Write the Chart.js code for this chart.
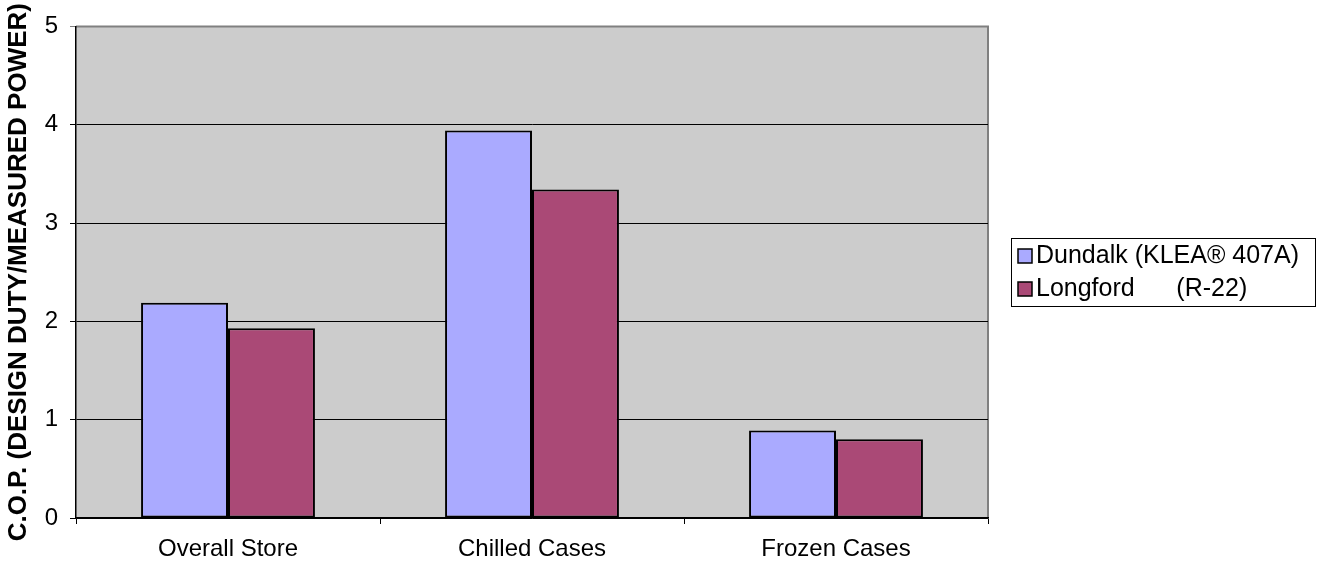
<!DOCTYPE html>
<html>
<head>
<meta charset="utf-8">
<script src="https://cdn.jsdelivr.net/npm/chart.js@4.4.1/dist/chart.umd.min.js"></script>
<style>
  html, body { margin: 0; padding: 0; background: #fff; }
  #wrap { width: 1318px; height: 574px; position: relative; }
</style>
</head>
<body>
<div id="wrap"><canvas id="copChart"></canvas></div>
<script>
const categories = ['Overall Store', 'Chilled Cases', 'Frozen Cases'];
const seriesNames = ['Dundalk (KLEA\u00AE 407A)', 'Longford      (R-22)'];
const dundalkValues = [2.19, 3.94, 0.89];
const longfordValues = [1.93, 3.34, 0.80];
const seriesColors = ['#aaaaff', '#aa4976'];
const yTicks = [0, 1, 2, 3, 4, 5];

const font = 'Arial, "Liberation Sans", sans-serif';

// plot background + grey frame, like the old spreadsheet look
const plotFrame = {
    id: 'plotFrame',
    beforeDraw(chart) {
        const a = chart.chartArea;
        const ctx = chart.ctx;
        ctx.save();
        ctx.fillStyle = '#cccccc';
        ctx.fillRect(a.left, a.top, a.right - a.left, a.bottom - a.top);
        ctx.strokeStyle = '#808080';
        ctx.lineWidth = 2;
        ctx.beginPath();
        ctx.moveTo(a.left, a.top);
        ctx.lineTo(a.right, a.top);
        ctx.lineTo(a.right, a.bottom);
        ctx.stroke();
        ctx.restore();
    }
};

// boxed legend to the right of the plot
const boxLegend = {
    id: 'boxLegend',
    afterDraw(chart) {
        const ctx = chart.ctx;
        const x = 1011, y = 238, w = 304, h = 68;
        ctx.save();
        ctx.fillStyle = '#fff';
        ctx.fillRect(x, y, w, h);
        ctx.strokeStyle = '#000';
        ctx.lineWidth = 1;
        ctx.strokeRect(x + 0.5, y + 0.5, w, h);
        ctx.font = '25px ' + font;
        ctx.textBaseline = 'alphabetic';
        chart.data.datasets.forEach((ds, i) => {
            const base = y + 25 + i * 33;
            ctx.fillStyle = ds.backgroundColor;
            ctx.fillRect(x + 7, base - 14, 14, 14);
            ctx.strokeStyle = '#000';
            ctx.lineWidth = 1.5;
            ctx.strokeRect(x + 7, base - 14, 14, 14);
            ctx.fillStyle = '#000';
            ctx.fillText(ds.label, x + 25, base);
        });
        ctx.restore();
    }
};

new Chart(document.getElementById('copChart'), {
    type: 'bar',
    data: {
        labels: categories,
        datasets: [
            { label: seriesNames[0], data: dundalkValues, backgroundColor: seriesColors[0] },
            { label: seriesNames[1], data: longfordValues, backgroundColor: seriesColors[1] }
        ]
    },
    options: {
        responsive: true,
        maintainAspectRatio: false,
        animation: false,
        layout: { padding: { top: 26, right: 330, left: 0, bottom: 0 } },
        datasets: {
            bar: {
                borderColor: '#000',
                borderWidth: 2,
                borderSkipped: false,
                categoryPercentage: 0.572,
                barPercentage: 1
            }
        },
        plugins: {
            legend: { display: false },
            tooltip: { enabled: false }
        },
        scales: {
            x: {
                offset: true,
                grid: {
                    offset: true,
                    drawOnChartArea: false,
                    color: '#000',
                    tickLength: 6
                },
                border: { color: '#000', width: 1.5 },
                ticks: {
                    color: '#000',
                    padding: 11,
                    maxRotation: 0,
                    font: { family: font, size: 24 }
                },
                afterFit(scale) { scale.height = 56; }
            },
            y: {
                min: 0,
                max: 5,
                afterBuildTicks(scale) { scale.ticks = yTicks.map(v => ({ value: v })); },
                grid: {
                    color: ctx => (ctx.tick && ctx.tick.value === 5 ? '#808080' : '#000'),
                    lineWidth: 1,
                    tickLength: 6
                },
                border: { color: '#000', width: 1.5 },
                ticks: {
                    color: '#000',
                    padding: 12,
                    font: { family: font, size: 24 }
                },
                title: {
                    display: true,
                    text: 'C.O.P. (DESIGN DUTY/MEASURED POWER)',
                    color: '#000',
                    padding: { top: 3, bottom: 0 },
                    font: { family: font, size: 26, weight: 'bold' }
                },
                afterFit(scale) { scale.width = 76; }
            }
        }
    },
    plugins: [plotFrame, boxLegend]
});
</script>
</body>
</html>
